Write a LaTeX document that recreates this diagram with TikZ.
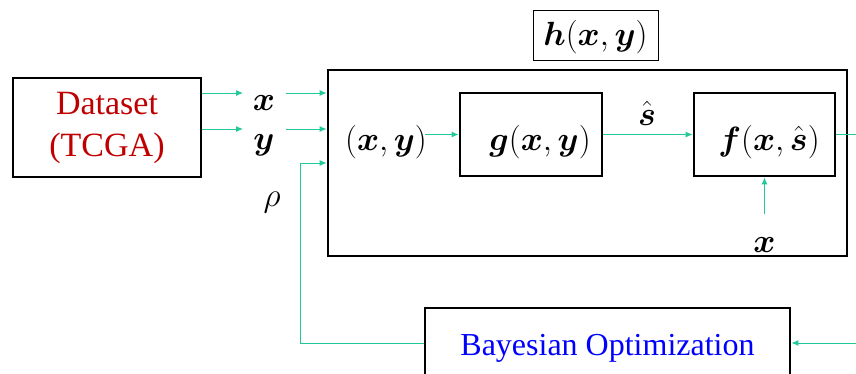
\documentclass[tikz,border=0pt]{standalone}
\usepackage{fontspec}
\setmainfont{Liberation Serif}
\usepackage{amsmath}
\usetikzlibrary{arrows.meta,positioning}

\definecolor{flowgreen}{RGB}{32,201,151}
\definecolor{dsred}{RGB}{192,0,0}
\definecolor{boblue}{RGB}{0,0,255}

\tikzset{
  blockbox/.style={draw=black,line width=2.8pt,inner sep=0pt},
  flow/.style={draw=flowgreen,line width=1pt,-{Latex[length=7pt,width=6pt]}},
  flowline/.style={draw=flowgreen,line width=1pt},
  mathlab/.style={inner sep=0pt,anchor=base,scale=1.35,font=\fontsize{24.88}{30}\selectfont}
}
\newcommand{\bx}{\boldsymbol{x}}
\newcommand{\by}{\boldsymbol{y}}
\newcommand{\bs}{\hat{\boldsymbol{s}}}

\begin{document}
\begin{tikzpicture}[x=1pt,y=-1pt]
  \clip (0,0) rectangle (856,373);

  % boxes
  \node[blockbox,minimum width=188pt,minimum height=99pt,align=center,text=dsred,
        font=\fontsize{34}{42}\selectfont] (data) at (107,127.5) {Dataset\\(TCGA)};
  \node[blockbox,minimum width=519pt,minimum height=186pt] (hbox) at (587.5,163) {};
  \node[draw=black,line width=0.8pt,minimum width=125pt,minimum height=50pt] (hlab) at (595.5,35) {};
  \node[mathlab] (htext) at (595.5,45) {$\boldsymbol{h}(\bx,\by)$};
  \node[blockbox,minimum width=142pt,minimum height=83pt] (g) at (531,134.5) {};
  \node[blockbox,minimum width=141pt,minimum height=83pt] (f) at (764.5,134.5) {};
  \node[blockbox,minimum width=365pt,minimum height=70pt] (bo) at (607.5,343) {};
  \node[text=boblue,inner sep=0pt,anchor=base,font=\fontsize{32}{38}\selectfont]
    (botext) at (607.5,355) {Bayesian Optimization};

  % labels
  \node[mathlab] (xlab) at (264,110) {$\bx$};
  \node[mathlab] (ylab) at (264,149) {$\by$};
  \node[mathlab] (rho) at (272,206) {$\rho$};
  \node[mathlab] (pxy) at (386,150) {$(\bx,\by)$};
  \node[mathlab] (gtext) at (540,150) {$\boldsymbol{g}(\bx,\by)$};
  \node[mathlab] (ftext) at (769,150) {$\boldsymbol{f}(\bx,\bs)$};
  \node[mathlab] (shat) at (647,125) {$\bs$};
  \node[mathlab] (xbot) at (764.5,252) {$\bx$};

  % connectors
  \draw[flow] (data.east |- 0,93) -- (243,93);
  \draw[flow] (data.east |- 0,129) -- (243,129);
  \draw[flow] (286,93) -- (hbox.west |- 0,93);
  \draw[flow] (286,129) -- (hbox.west |- 0,129);
  \draw[flow] (bo.west) -| (300,163) -- (hbox.west |- 0,163);
  \draw[flow] (425,134.5) -- (g.west);
  \draw[flow] (g.east) -- (f.west);
  \draw[flow] ([yshift=-37pt]f.south) -- (f.south);
  \draw[flowline] (f.east) -- (860,134.5);
  \draw[flow] (860,343) -- (bo.east);
\end{tikzpicture}
\end{document}
